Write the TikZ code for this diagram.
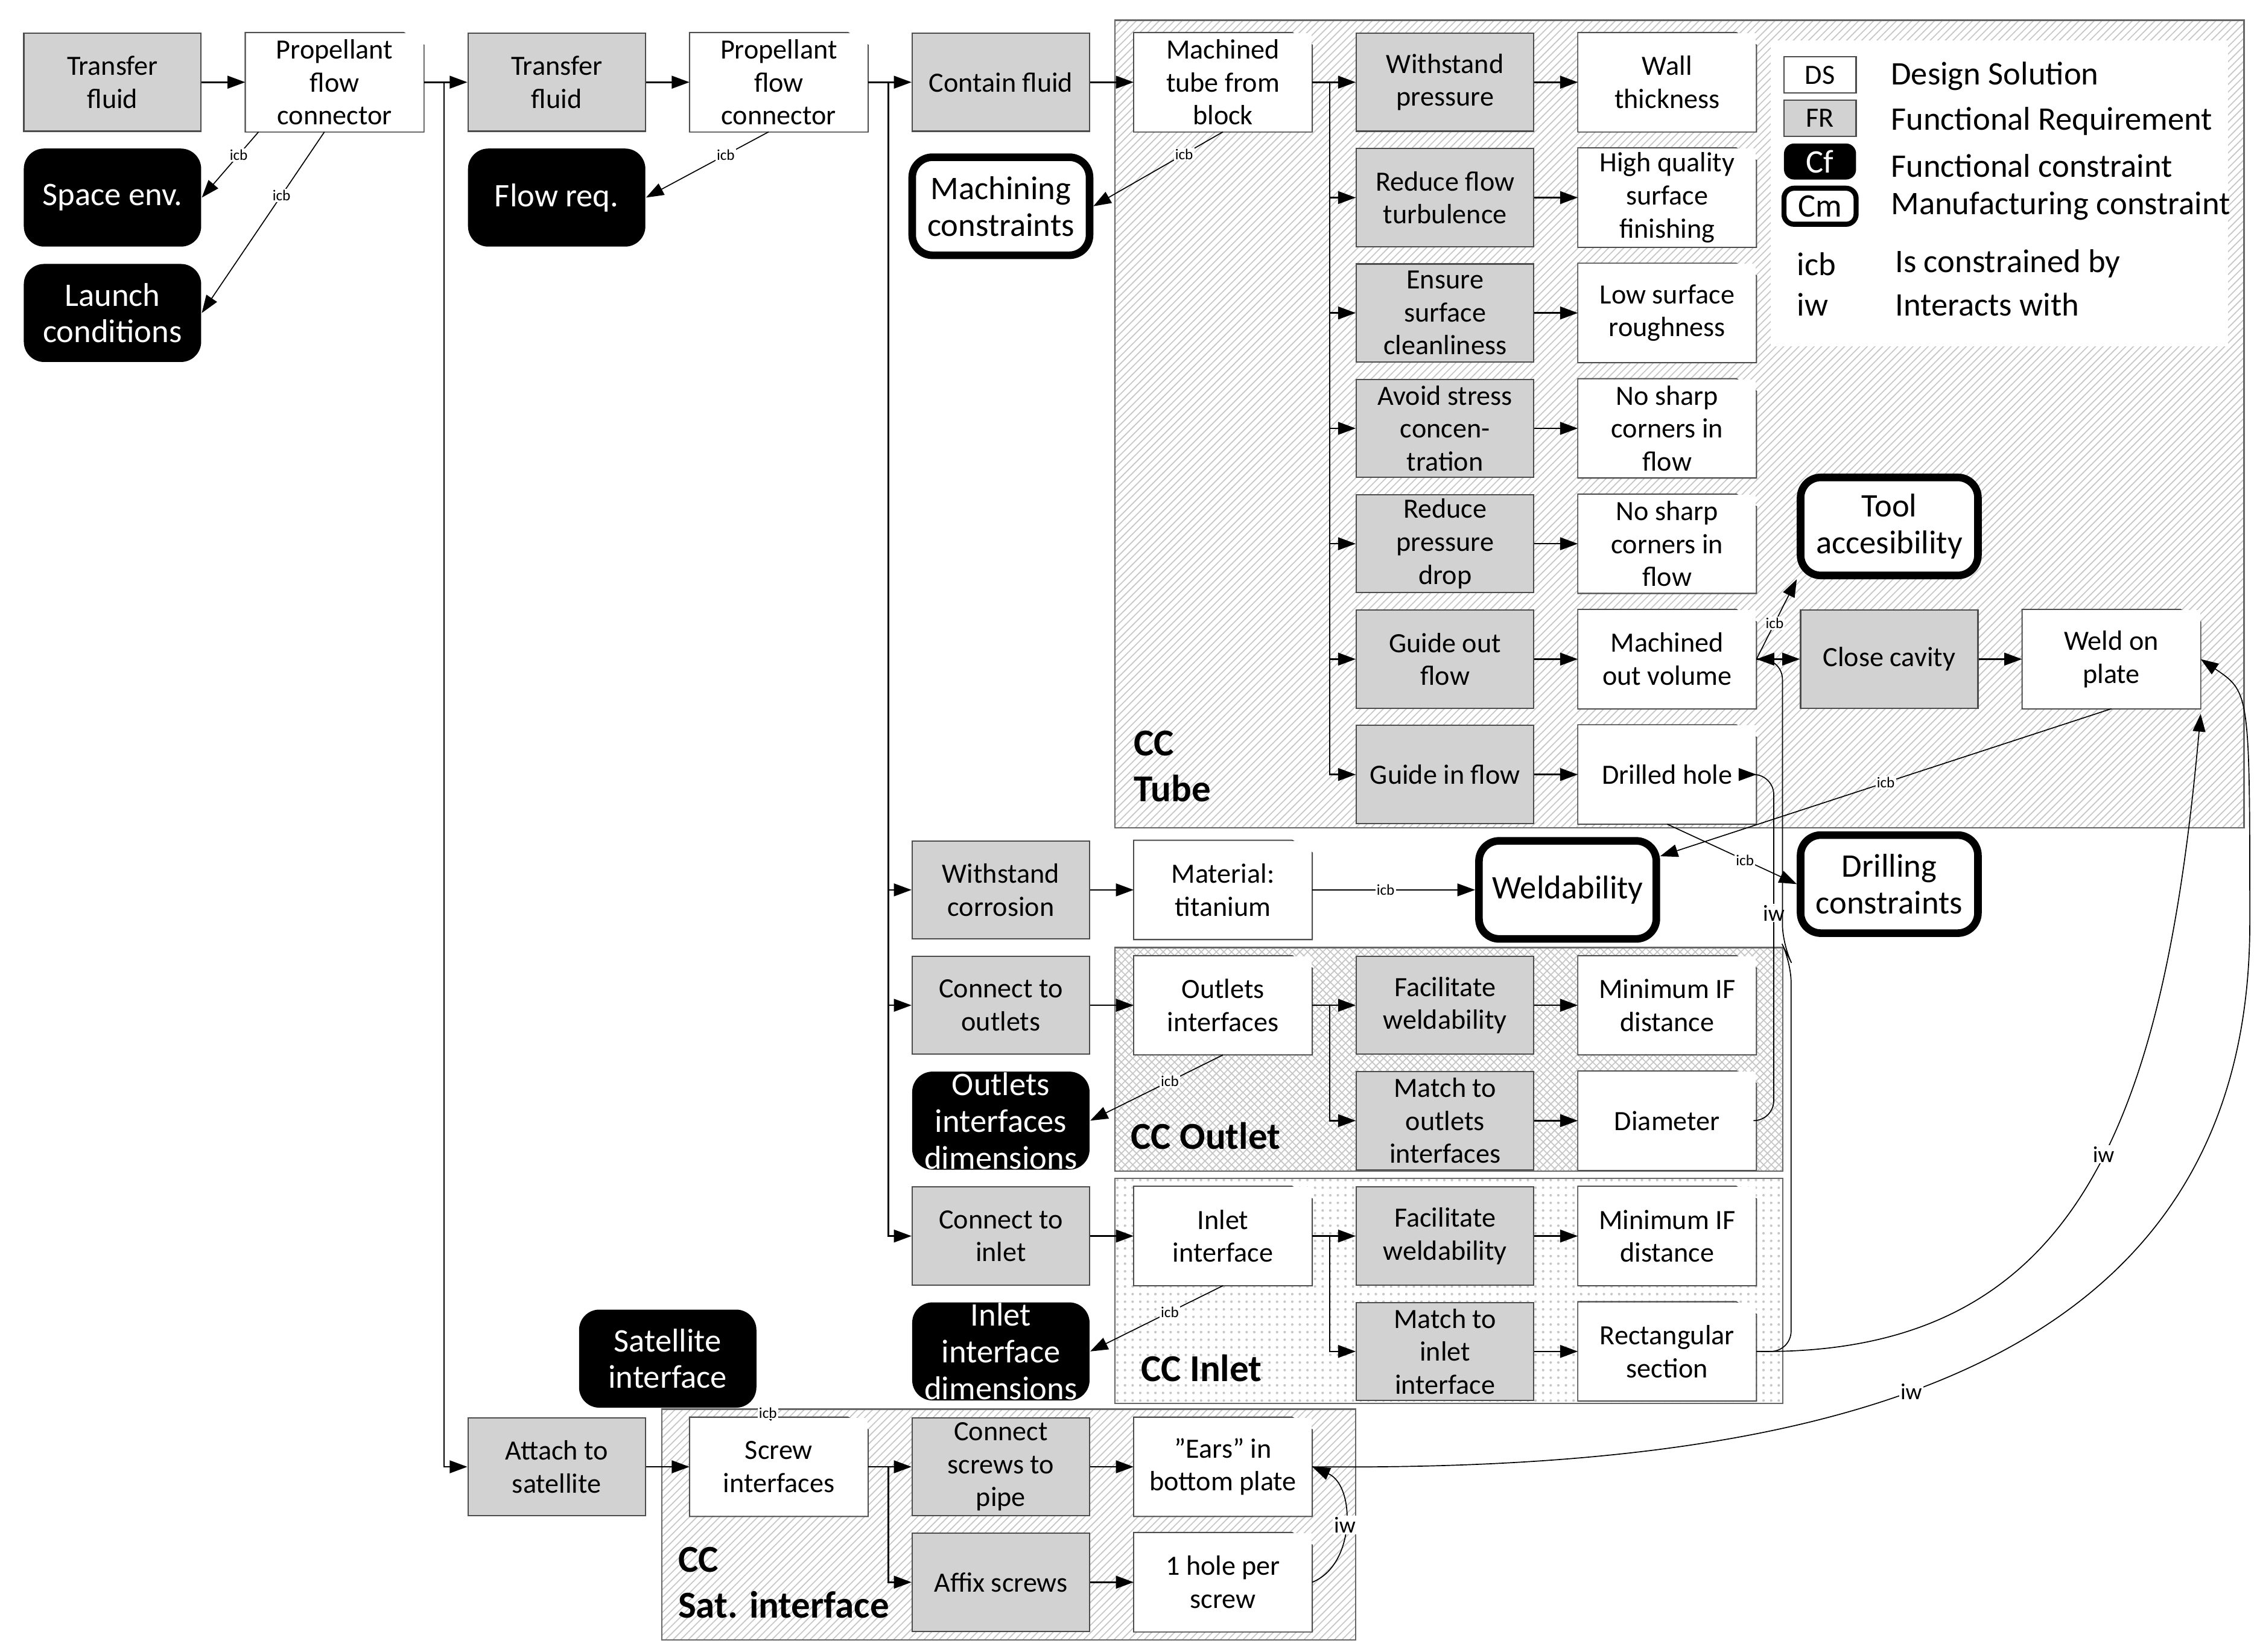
\documentclass[tikz,border=0pt]{standalone}
\usepackage{fontspec}
\setmainfont{Carlito}
\usetikzlibrary{arrows.meta,patterns}

\tikzset{
  box/.style={rectangle, minimum width=2.46cm, minimum height=1.36cm, align=center, inner sep=1pt,
    font=\fontsize{11}{13}\selectfont, line width=0.5pt},
  fr/.style={box, draw=black!70, fill=gray!35},
  ds/.style={box, fill=white, append after command={\pgfextra{
    \draw[black!70, line width=0.5pt] (\tikzlastnode.north west) -- ([xshift=-8pt]\tikzlastnode.north east)
      -- ([yshift=-5pt]\tikzlastnode.north east) -- (\tikzlastnode.south east)
      -- (\tikzlastnode.south west) -- cycle;}}},
  fcon/.style={box, fill=black, text=white, rounded corners=8pt, inner ysep=0pt, font=\fontsize{13}{14.5}\selectfont},
  mcon/.style={box, draw=black, fill=white, line width=3pt, rounded corners=8pt, font=\fontsize{13}{14.5}\selectfont},
  arr/.style={-{Triangle[length=7pt,width=5pt]}, line width=0.6pt},
  rel/.style={-{Triangle[length=7pt,width=5pt]}, line width=0.4pt},
  lbl/.style={font=\fontsize{6}{6}\selectfont, fill=white, inner sep=0.5pt},
  iwl/.style={font=\fontsize{9}{9}\selectfont, fill=white, inner sep=0.5pt},
  cluster/.style={draw=black!60, line width=0.5pt, pattern color=gray!45},
  cclabel/.style={anchor=south west, align=left, font=\fontsize{15}{18}\selectfont\bfseries},
  legtext/.style={anchor=west, font=\fontsize{13}{15}\selectfont}
}

\begin{document}
\begin{tikzpicture}[x=0.02cm, y=-0.02cm]
  \useasboundingbox (0,0) rectangle (1565,1145);

  % clusters
  \draw[cluster, pattern=north east lines] (773,14) rectangle (1556,574);
  \fill[white] (1228,28) rectangle (1545,240);
  \draw[cluster, pattern=crosshatch] (773,657) rectangle (1236,812);
  \draw[cluster, pattern=dots] (773,817) rectangle (1236,973);
  \draw[cluster, pattern=north east lines] (459,977) rectangle (940,1137);

  \node[cclabel] at (780,562) {CC\\Tube};
  \node[cclabel] at (778,803) {CC Outlet};
  \node[cclabel] at (785,964) {CC Inlet};
  \node[cclabel] at (464,1128) {CC\\Sat. interface};

  % legend
  \node[box, draw=black!70, fill=white, minimum width=1cm, minimum height=0.5cm] (lds) at (1262,52) {DS};
  \node[box, draw=black!70, fill=gray!35, minimum width=1cm, minimum height=0.5cm] (lfr) at (1262,82) {FR};
  \node[box, fill=black, text=white, rounded corners=4pt, minimum width=1cm, minimum height=0.5cm, font=\fontsize{13}{14}\selectfont] (lcf) at (1262,112) {Cf};
  \node[box, draw=black, line width=2pt, rounded corners=4pt, minimum width=1cm, minimum height=0.5cm, font=\fontsize{13}{14}\selectfont] (lcm) at (1262,143) {Cm};
  \node[legtext] at (1305,53) {Design Solution};
  \node[legtext] at (1305,84) {Functional Requirement};
  \node[legtext] at (1305,115) {Functional constraint};
  \node[legtext] at (1305,143) {Manufacturing constraint};
  \node[legtext] at (1240,183) {icb};
  \node[legtext] at (1240,211) {iw};
  \node[legtext] at (1308,183) {Is constrained by};
  \node[legtext] at (1308,211) {Interacts with};

  % top chain
  \node[fr] (tf1) at (78,57) {Transfer\\fluid};
  \node[ds] (pfc1) at (232,57) {Propellant\\flow\\connector};
  \node[fr] (tf2) at (386,57) {Transfer\\fluid};
  \node[ds] (pfc2) at (540,57) {Propellant\\flow\\connector};
  \node[fr] (cfl) at (694,57) {Contain fluid};
  \node[ds] (mtb) at (848,57) {Machined\\tube from\\block};

  \node[fcon] (spc) at (78,137) {Space env.};
  \node[fcon] (lch) at (78,217) {Launch\\conditions};
  \node[fcon] (flr) at (386,137) {Flow req.};
  \node[mcon] (mach) at (694,143) {Machining\\constraints};

  % CC tube
  \node[fr] (wp) at (1002,57) {Withstand\\pressure};
  \node[ds] (wt) at (1156,57) {Wall\\thickness};
  \node[fr] (rft) at (1002,137) {Reduce flow\\turbulence};
  \node[ds] (hq) at (1156,137) {High quality\\surface\\finishing};
  \node[fr] (esc) at (1002,217) {Ensure\\surface\\cleanliness};
  \node[ds] (lsr) at (1156,217) {Low surface\\roughness};
  \node[fr] (asc) at (1002,297) {Avoid stress\\concen-\\tration};
  \node[ds] (nsc1) at (1156,297) {No sharp\\corners in\\flow};
  \node[fr] (rpd) at (1002,377) {Reduce\\pressure\\drop};
  \node[ds] (nsc2) at (1156,377) {No sharp\\corners in\\flow};
  \node[fr] (gof) at (1002,457) {Guide out\\flow};
  \node[ds] (mov) at (1156,457) {Machined\\out volume};
  \node[fr] (gif) at (1002,537) {Guide in flow};
  \node[ds] (drh) at (1156,537) {Drilled hole};
  \node[fr] (clc) at (1310,457) {Close cavity};
  \node[ds] (wop) at (1464,457) {Weld on\\plate};
  \node[mcon] (tool) at (1310,365) {Tool\\accesibility};
  \node[mcon] (drc) at (1310,613) {Drilling\\constraints};

  % corrosion
  \node[fr] (wco) at (694,617) {Withstand\\corrosion};
  \node[ds] (mat) at (848,617) {Material:\\titanium};
  \node[mcon] (wld) at (1087,617) {Weldability};

  % CC outlet
  \node[fr] (cto) at (694,697) {Connect to\\outlets};
  \node[ds] (oif) at (848,697) {Outlets\\interfaces};
  \node[fr] (fw1) at (1002,697) {Facilitate\\weldability};
  \node[ds] (mid1) at (1156,697) {Minimum IF\\distance};
  \node[fr] (mto) at (1002,777) {Match to\\outlets\\interfaces};
  \node[ds] (dia) at (1156,777) {Diameter};
  \node[fcon] (oid) at (694,777) {Outlets\\interfaces\\dimensions};

  % CC inlet
  \node[fr] (cti) at (694,857) {Connect to\\inlet};
  \node[ds] (iif) at (848,857) {Inlet\\interface};
  \node[fr] (fw2) at (1002,857) {Facilitate\\weldability};
  \node[ds] (mid2) at (1156,857) {Minimum IF\\distance};
  \node[fr] (mti) at (1002,937) {Match to\\inlet\\interface};
  \node[ds] (rsec) at (1156,937) {Rectangular\\section};
  \node[fcon] (iid) at (694,937) {Inlet\\interface\\dimensions};

  % CC sat interface
  \node[fcon] (sat) at (463,942) {Satellite\\interface};
  \node[fr] (ats) at (386,1017) {Attach to\\satellite};
  \node[ds] (scr) at (540,1017) {Screw\\interfaces};
  \node[fr] (csp) at (694,1017) {Connect\\screws to\\pipe};
  \node[ds] (ears) at (848,1017) {”Ears” in\\bottom plate};
  \node[fr] (afs) at (694,1097) {Affix screws};
  \node[ds] (hps) at (848,1097) {1 hole per\\screw};

  % decomposition
  \draw[arr] (tf1) -- (pfc1);
  \draw[arr] (pfc1.east) -- ++(14,0) |- (tf2.west);
  \draw[arr] (pfc1.east) -- ++(14,0) |- (ats.west);
  \draw[arr] (tf2) -- (pfc2);
  \foreach \t in {cfl,wco,cto,cti}
    \draw[arr] (pfc2.east) -- ++(14,0) |- (\t.west);
  \draw[arr] (cfl) -- (mtb);
  \foreach \t in {wp,rft,esc,asc,rpd,gof,gif}
    \draw[arr] (mtb.east) -- ++(12,0) |- (\t.west);
  \foreach \a/\b in {wp/wt,rft/hq,esc/lsr,asc/nsc1,rpd/nsc2,gof/mov,gif/drh,mov/clc,clc/wop,
                     wco/mat,cto/oif,fw1/mid1,mto/dia,cti/iif,fw2/mid2,mti/rsec,ats/scr,csp/ears,afs/hps}
    \draw[arr] (\a) -- (\b);
  \foreach \t in {fw1,mto}
    \draw[arr] (oif.east) -- ++(12,0) |- (\t.west);
  \foreach \t in {fw2,mti}
    \draw[arr] (iif.east) -- ++(12,0) |- (\t.west);
  \foreach \t in {csp,afs}
    \draw[arr] (scr.east) -- ++(14,0) |- (\t.west);

  % is constrained by
  \draw[rel] ([xshift=-30pt]pfc1.south) -- node[lbl, pos=0.35]{icb} (spc.east);
  \draw[rel] ([xshift=-4pt]pfc1.south) -- node[lbl, pos=0.35]{icb} (lch.east);
  \draw[rel] ([xshift=-4pt]pfc2.south) -- node[lbl, pos=0.35]{icb} (flr.east);
  \draw[rel] (mtb.south) -- node[lbl, pos=0.3]{icb} (mach.east);
  \draw[rel] (oif.south) -- node[lbl, pos=0.4]{icb} (oid.east);
  \draw[rel] (iif.south) -- node[lbl, pos=0.4]{icb} (iid.east);
  \draw[rel] (scr.north) -- node[lbl, pos=0.5]{icb} (sat.south east);
  \draw[rel] (mat.east) -- node[lbl, pos=0.45]{icb} (wld.west);
  \draw[rel] (mov.east) -- node[lbl, pos=0.45]{icb} (tool.south west);
  \draw[rel] (wop.south) -- node[lbl, pos=0.5]{icb} (wld.20);
  \draw[rel] (drh.south) -- node[lbl, pos=0.6]{icb} (drc.west);

  % interacts with
  \draw[rel, rounded corners=8pt] (dia.east) -- ++(12,0) |- node[iwl, pos=0.3]{iw} (drh.east);
  \draw[rel, rounded corners=8pt] (rsec.east) -- ++(24,0) -- ++(0,-270) -- ++(-6,-12) |- (mov.east);
  \draw[rel] (rsec.east) .. controls (1440,940) and (1500,780) .. node[iwl, pos=0.55]{iw} ([yshift=-2pt]wop.south east);
  \draw[rel] (ears.east) .. controls (1250,1020) and (1560,960) .. node[iwl, pos=0.45]{iw} (1560,640)
    .. controls (1560,480) .. (wop.east);
  \draw[rel] (hps.east) .. controls (940,1085) and (940,1030) .. node[iwl, pos=0.5]{iw} (ears.east);
\end{tikzpicture}
\end{document}
